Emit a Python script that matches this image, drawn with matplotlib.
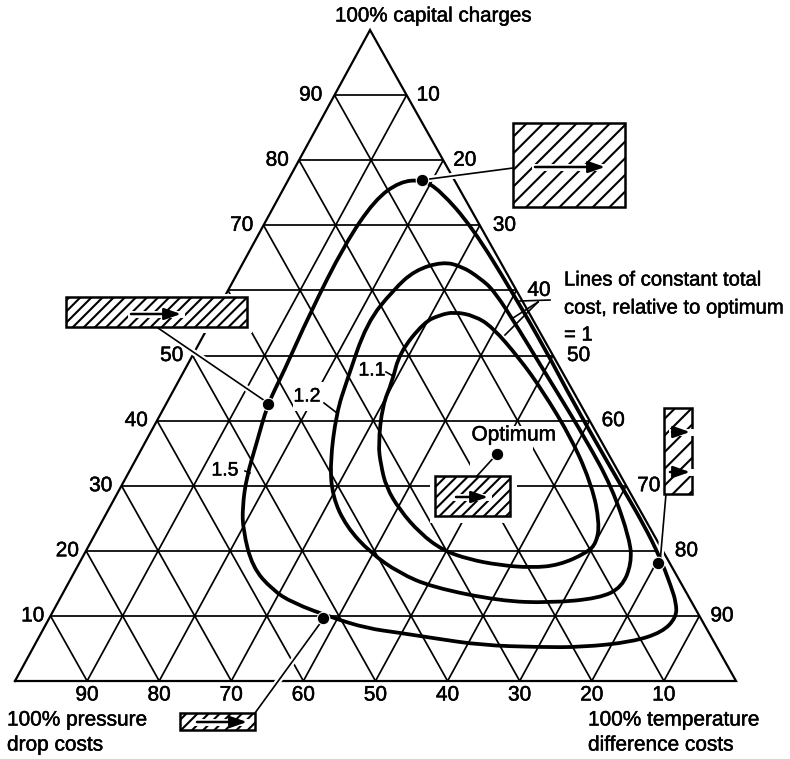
import numpy as np
import matplotlib
matplotlib.use('Agg')
import matplotlib.pyplot as plt
import matplotlib.patheffects as pe
from matplotlib.path import Path
from matplotlib.patches import PathPatch, Rectangle

plt.rcParams['font.family'] = ['Liberation Sans', 'DejaVu Sans']
plt.rcParams['hatch.linewidth'] = 1.5

# cost curves: % capital charges and % temperature difference costs
curve_15_capital = [77.0, 75.4, 69.7, 59.6, 50.4, 44.7, 37.0, 29.8, 24.0, 19.0, 14.7, 12.0, 9.8, 7.5, 6.0, 5.2, 5.2,
                    5.5, 6.6, 7.4, 8.1, 9.7, 12.0, 14.0, 17.5, 23.2, 26.7, 31.3, 36.6, 42.5, 47.3, 56.5, 67.0,
                    73.9, 76.7]
curve_15_temp = [18.5, 21.8, 29.1, 39.7, 49.0, 54.5, 62.2, 69.5, 75.4, 80.1, 83.7, 85.8, 86.9, 86.1, 82.6, 76.1, 70.1,
                 62.0, 54.7, 49.7, 44.8, 39.3, 32.6, 28.8, 24.3, 20.2, 18.4, 16.7, 15.5, 14.1, 13.9, 13.1, 12.7,
                 13.5, 15.6]
curve_12_capital = [64.4, 63.7, 61.9, 59.9, 54.0, 48.8, 44.7, 37.0, 29.8, 21.7, 18.1, 14.4, 12.7, 12.0, 12.3,
                    14.4, 16.6, 19.7, 23.7, 28.3, 33.5, 41.2, 46.2, 55.0, 60.1, 63.1]
curve_12_temp = [27.6, 30.6, 34.0, 37.0, 43.3, 48.7, 53.0, 61.0, 68.1, 74.6, 76.6, 77.1, 74.8, 68.2, 61.2,
                 50.8, 45.1, 39.6, 34.3, 30.1, 27.2, 24.3, 23.3, 21.7, 22.9, 24.4]
curve_11_capital = [56.7, 56.1, 54.4, 49.6, 44.7, 37.0, 29.8, 24.3, 21.2, 19.7, 17.8, 17.4, 17.8, 18.7, 20.1, 22.7,
                    26.3, 29.8, 33.2, 36.3, 42.4, 45.9, 50.4, 55.1, 56.2]
curve_11_temp = [33.0, 36.1, 39.4, 45.5, 51.1, 59.1, 65.4, 69.1, 70.2, 69.6, 66.7, 63.1, 58.4, 53.7, 49.4, 45.0,
                 40.4, 36.8, 34.4, 32.5, 30.1, 29.7, 28.5, 29.6, 31.2]

# marked points on the curves
dots_capital = [77.0, 42.5, 18.1, 9.7, 34.9]
dots_temp = [18.5, 14.1, 80.3, 38.0, 49.6]

levels = [10, 20, 30, 40, 50, 60, 70, 80, 90]
left_labels = ['10', '20', '30', '40', '50', '70', '80', '90']
left_levels = [10, 20, 30, 40, 50, 70, 80, 90]
left_shift = [-6, -7, -9, -9, -9, -10, -10, -12]
right_labels = ['90', '80', '70', '60', '50', '40', '30', '20', '10']
right_shift = [11, 12, 11, 12, 14, 11, 13, 10, 10]
bottom_labels = ['90', '80', '70', '60', '50', '40', '30', '20', '10']

W, H = 790, 759
SKEW = 0.4924  # the printed triangle leans a bit, apex is left of the base centre


def to_xy(capital, temp):
    capital = np.asarray(capital, dtype=float)
    return np.asarray(temp, dtype=float) + capital * SKEW, capital


def px(x, y):
    # picture position to axes fraction
    return x / W, 1 - y / H


fig = plt.figure(figsize=(W / 100, H / 100), dpi=100)
ax = fig.add_axes([0, 0, 1, 1])
sx = 7.21
sy = 6.51
ax.set_xlim(-15 / sx, (W - 15) / sx)
ax.set_ylim((681 - H) / sy, 681 / sy)
ax.axis('off')

# grid
for v in levels:
    for c0, t0, c1, t1 in [(v, 0, v, 100 - v), (0, v, 100 - v, v), (0, 100 - v, 100 - v, 0)]:
        xs, ys = to_xy([c0, c1], [t0, t1])
        ax.plot(xs, ys, color='black', lw=1.25, zorder=1, solid_capstyle='butt')
xs, ys = to_xy([0, 100, 0, 0], [0, 0, 100, 0])
ax.plot(xs, ys, color='black', lw=1.6, zorder=1, solid_joinstyle='miter')

# white gaps in the grid around boxes and labels
for x0, y0, x1, y1 in [(60, 294, 252, 333), (430, 472, 517, 523), (470, 426, 533, 472),
                       (293, 382, 326, 411), (210, 459, 246, 483), (360, 361, 386, 382)]:
    ax.add_patch(Rectangle(px(x0, y1), (x1 - x0) / W, (y1 - y0) / H, transform=ax.transAxes,
                           fc='white', ec='none', zorder=2))

# connectors from the points to the boxes
for p0, p1 in [((422, 180), (513, 168)), ((268, 403), (158, 328)), ((660, 563), (666, 494)),
               ((324, 618), (255, 713)), ((497, 454), (477, 476))]:
    xx = [px(*p0)[0], px(*p1)[0]]
    yy = [px(*p0)[1], px(*p1)[1]]
    ax.plot(xx, yy, color='white', lw=4.5, transform=ax.transAxes, zorder=3)
    ax.plot(xx, yy, color='black', lw=1.2, transform=ax.transAxes, zorder=5)

# curves
for capital, temp in [(curve_15_capital, curve_15_temp), (curve_12_capital, curve_12_temp),
                      (curve_11_capital, curve_11_temp)]:
    xs, ys = to_xy(capital, temp)
    pts = np.column_stack([xs, ys])
    mids = (pts + np.roll(pts, -1, axis=0)) / 2
    verts = [mids[-1]]
    codes = [Path.MOVETO]
    for i in range(len(pts)):
        verts += [pts[i], mids[i]]
        codes += [Path.CURVE3, Path.CURVE3]
    ax.add_patch(PathPatch(Path(verts, codes), fc='none', ec='black', lw=2.7, zorder=4))

xs, ys = to_xy(dots_capital, dots_temp)
ax.plot(xs, ys, 'o', color='black', ms=9, mec='white', mew=0.8, zorder=6, ls='none')

# hatched cost boxes, with the arrows inside
boxes = [(513, 123, 625, 207, '//'), (66, 297, 247, 327, '///'), (435, 476, 510, 516, '///'),
         (664, 408, 692, 494, '//'), (180, 713, 255, 730, '///')]
for x0, y0, x1, y1, h in boxes:
    ax.add_patch(Rectangle(px(x0, y1), (x1 - x0) / W, (y1 - y0) / H, transform=ax.transAxes,
                           fc='white', ec='black', lw=1.8, hatch=h, zorder=7))

arrows = [((535, 167), (605, 167)), ((131, 314), (181, 314)), ((456, 497), (488, 497)),
          ((672, 432), (690, 432)), ((670, 472), (690, 472)), ((197, 722), (247, 722))]
for a0, a1 in arrows:
    xx = [px(*a0)[0], px(*a1)[0]]
    yy = [px(*a0)[1], px(*a1)[1]]
    ax.plot(xx, yy, color='white', lw=5, transform=ax.transAxes, zorder=8)
    ax.annotate('', xy=px(*a1), xytext=px(*a0), xycoords='axes fraction', textcoords='axes fraction',
                arrowprops=dict(arrowstyle='-|>,head_length=1.0,head_width=0.35', color='black', lw=1.8,
                                shrinkA=0, shrinkB=0), zorder=9)

# tick labels
fs = 15
heavy = [pe.withStroke(linewidth=0.35, foreground='black')]
for lab, v, s in zip(left_labels, left_levels, left_shift):
    xs, ys = to_xy(v, 0)
    ax.annotate(lab, (xs, ys), xytext=(s, 0), textcoords='offset pixels', ha='right', va='center',
                fontsize=fs, path_effects=heavy)
for lab, v, s in zip(right_labels, levels, right_shift):
    xs, ys = to_xy(v, 100 - v)
    ax.annotate(lab, (xs, ys), xytext=(s, 0), textcoords='offset pixels', ha='left', va='center',
                fontsize=fs, path_effects=heavy)
for lab, v in zip(bottom_labels, levels):
    xs, ys = to_xy(0, v)
    ax.annotate(lab, (xs, ys), xytext=(0, -14), textcoords='offset pixels', ha='center', va='center',
                fontsize=fs, path_effects=heavy)

# other text
texts = [(335, 16, '100% capital charges', 'left', 14.8),
         (7, 720, '100% pressure', 'left', 15), (7, 745, 'drop costs', 'left', 15),
         (588, 720, '100% temperature', 'left', 15), (588, 745, 'difference costs', 'left', 15),
         (564, 280, 'Lines of constant total', 'left', 14.6), (564, 308, 'cost, relative to optimum', 'left', 14.6),
         (564, 335, '= 1', 'left', 14.6), (372, 371, '1.1', 'center', 14), (307, 397, '1.2', 'center', 14),
         (225, 471, '1.5', 'center', 14), (514, 435, 'Optimum', 'center', 15)]
for x, y, s, ha, size in texts:
    ax.text(*px(x, y), s, transform=ax.transAxes, ha=ha, va='center', fontsize=size, zorder=10,
            path_effects=heavy)

# small leader lines
leaders = [((386, 372), (393, 376)), ((324, 403), (337, 413)), ((245, 471), (250, 473)),
           ((520, 301), (550, 300)), ((538, 302), (513, 318)), ((538, 302), (505, 335))]
for p0, p1 in leaders:
    ax.plot([px(*p0)[0], px(*p1)[0]], [px(*p0)[1], px(*p1)[1]], color='black', lw=1.2,
            transform=ax.transAxes, zorder=5)

fig.savefig('out.png', dpi=100)
